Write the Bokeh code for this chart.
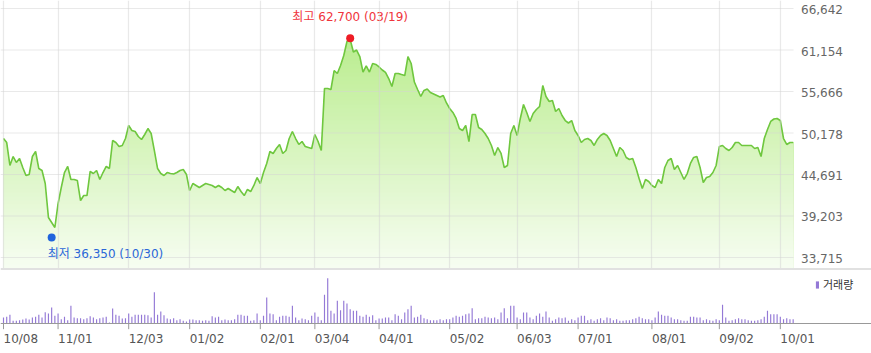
import numpy as np
from bokeh.plotting import figure
from bokeh.layouts import column
from bokeh.models import Range1d, FixedTicker, Span, Legend, LegendItem, Grid
from bokeh.core.properties import value
from bokeh.embed import file_html
from bokeh.resources import INLINE

# ---------------- data ----------------
tick_idx = [0, 17, 39, 58, 80, 97, 117, 139, 160, 179, 202, 223, 242]
tick_labels = ["10/08", "11/01", "12/03", "01/02", "02/01", "03/04", "04/01",
               "05/02", "06/03", "07/01", "08/01", "09/02", "10/01"]
price_ticks = [33715, 39203, 44691, 50178, 55666, 61154, 66642]

prices = [
    49450, 48920, 45880, 47070, 46280, 46810, 45620, 44560, 44690, 47070,
    47730, 45480, 45220, 43500, 39000, 38340, 37680, 40850, 42970, 44950,
    45750, 44030, 44030, 43900, 41250, 41910, 41910, 45090, 44820, 45220,
    44030, 44950, 45750, 45480, 49190, 48920, 48390, 48530, 49450, 51170,
    50510, 50380, 49720, 49320, 49980, 50770, 50110, 47860, 45480, 44820,
    44560, 44950, 44820, 44760, 44950, 45220, 45350, 44690, 42570, 43500,
    43240, 42970, 43240, 43500, 43370, 43240, 42970, 43240, 42970, 42570,
    42840, 42570, 42310, 43100, 42440, 41910, 42710, 42440, 43240, 44290,
    43500, 44950, 46150, 47730, 47470, 48130, 48660, 47470, 47860, 49450,
    50380, 49450, 48660, 49050, 48390, 48260, 48130, 49980, 49050, 47860,
    56060, 56060, 55930, 58440, 58050, 59100, 60430, 62280, 62540, 60890,
    61150, 60290, 58240, 59040, 58240, 59370, 59240, 58910, 58510, 58180,
    57380, 56330, 58050, 58050, 57910, 57780, 60290, 59370, 56920, 55930,
    55010, 55800, 55990, 55530, 55340, 55140, 54940, 55140, 54150, 53420,
    52890, 52100, 50770, 50510, 51170, 49050, 52620, 52620, 50910, 50640,
    50110, 49450, 48530, 47200, 48260, 47470, 45620, 45880, 50110, 51170,
    49850, 52100, 53950, 52890, 51700, 52760, 53290, 53680, 56460, 55010,
    54340, 54480, 53020, 53420, 52490, 51830, 51500, 51830, 50510, 49850,
    48920, 49320, 49450, 49190, 48530, 49320, 49850, 50110, 49850, 49190,
    48130, 47070, 48260, 47860, 46940, 46670, 46810, 45620, 44160, 42840,
    44030, 43760, 43240, 42970, 44030, 43500, 45620, 46540, 46810, 45350,
    45880, 44950, 44030, 44820, 46150, 46940, 47070, 45620, 43630, 44290,
    44420, 44950, 45880, 48390, 48530, 48130, 47860, 48260, 48920, 48920,
    48530, 48530, 48530, 48530, 48130, 48260, 47070, 49450, 50640, 51700,
    52030, 52100, 51830, 49450, 48660, 48920, 48920,
]

volumes = [
    18, 20, 26, 8, 8, 10, 12, 15, 12, 18,
    20, 26, 18, 34, 30, 48, 23, 30, 13, 20,
    10, 53, 18, 16, 16, 13, 16, 22, 18, 13,
    16, 18, 20, 3, 45, 26, 23, 15, 16, 30,
    20, 26, 26, 26, 26, 25, 18, 94, 26, 36,
    25, 15, 13, 16, 10, 13, 8, 6, 12, 12,
    10, 10, 8, 10, 8, 22, 18, 20, 10, 12,
    10, 10, 13, 26, 26, 23, 23, 8, 10, 30,
    10, 23, 78, 30, 28, 10, 20, 23, 23, 20,
    53, 18, 10, 15, 13, 10, 23, 33, 20, 10,
    86, 136, 38, 30, 68, 40, 68, 60, 43, 38,
    38, 23, 20, 26, 20, 25, 10, 15, 15, 18,
    18, 10, 28, 23, 13, 33, 43, 53, 18, 20,
    26, 16, 13, 10, 10, 10, 13, 10, 13, 13,
    18, 23, 20, 23, 28, 30, 46, 13, 16, 16,
    20, 18, 16, 18, 13, 33, 46, 16, 53, 53,
    18, 13, 33, 33, 18, 13, 23, 30, 20, 36,
    18, 8, 13, 18, 16, 18, 8, 13, 10, 18,
    23, 23, 10, 13, 8, 13, 16, 10, 18, 16,
    10, 13, 8, 8, 10, 10, 13, 16, 20, 16,
    13, 13, 10, 18, 36, 26, 23, 23, 18, 13,
    13, 10, 8, 8, 20, 20, 18, 18, 10, 13,
    10, 8, 13, 10, 56, 18, 8, 10, 13, 16,
    13, 13, 10, 8, 8, 10, 13, 20, 38, 28,
    28, 28, 20, 13, 16, 13, 13,
]

hi_idx, hi_val, hi_text = 108, 62700, "최고 62,700 (03/19)"
lo_idx, lo_val, lo_text = 15, 36350, "최저 36,350 (10/30)"
vol_label = "거래량"

# ---------------- layout constants ----------------
W, H_TOP, H_BOT = 871, 268, 85
PX = 3.21                       # pixels per trading day
X_LEFT = -3 / PX                # data x at the left page edge
X_RIGHT = (W - 3) / PX          # data x at the right page edge
X_PLOT_END = 790 / PX           # right end of the price grid
X_YLABEL = 797.5 / PX           # left edge of the price labels
NUM_FONT = "DejaVu Sans"
KR_FONT = "DejaVu Sans, Noto Sans CJK KR"
GRID_COLOR = "#d4d4d4"
VOL_COLOR = "#9479d6"

x = np.arange(len(prices))
price_arr = np.array(prices, dtype=float)

# ---------------- price panel ----------------
p = figure(width=W, height=H_TOP,
           x_range=Range1d(X_LEFT, X_RIGHT),
           y_range=Range1d(32260, 67700),
           output_backend="svg", toolbar_location=None,
           x_axis_location=None, y_axis_location=None,
           min_border_left=0, min_border_right=0,
           min_border_top=0, min_border_bottom=0)
p.outline_line_color = None
for g in p.grid:
    g.visible = False

# gradient fill under the line (stacked bands)
base = p.y_range.start
top_c = np.array([0xb0, 0xea, 0x7e], dtype=float)
bot_c = np.array([0xf7, 0xfd, 0xf2], dtype=float)
edges = np.linspace(p.y_range.end, p.y_range.start, 68)
pmax = price_arr.max()
for k in range(len(edges) - 1):
    if edges[k + 1] >= pmax:
        continue
    mid = 0.5 * (edges[k] + edges[k + 1])
    t = (p.y_range.end - mid) / (p.y_range.end - p.y_range.start)
    c = top_c + (bot_c - top_c) * t
    col = "#%02x%02x%02x" % tuple(int(round(v)) for v in c)
    p.varea(x=x, y1=np.minimum(price_arr, edges[k]), y2=base,
            fill_color=col, level="underlay")

# grid
gx = Grid(dimension=0, ticker=FixedTicker(ticks=tick_idx),
          grid_line_color=GRID_COLOR, grid_line_alpha=0.5, grid_line_width=1.2)
gx.level = "glyph"
p.add_layout(gx)
n_t = len(price_ticks)
p.segment(x0=[X_LEFT] * n_t, x1=[X_PLOT_END] * n_t, y0=price_ticks, y1=price_ticks,
          line_color=GRID_COLOR, line_alpha=0.5, line_width=1.2)

# price labels on the right
p.text(x=[X_YLABEL] * n_t, y=price_ticks, text=[f"{t:,}" for t in price_ticks],
       text_align="left", text_baseline="middle", y_offset=1,
       text_font=value(NUM_FONT), text_font_size="12px", text_color="#666666")

p.line(x, price_arr, line_color="#6fc73f", line_width=1.6)

# high / low markers
p.scatter([hi_idx], [hi_val], size=8, fill_color="#ee1c25", line_color=None)
p.text(x=[hi_idx], y=[hi_val], text=[hi_text], text_align="center",
       text_baseline="middle", y_offset=-21,
       text_font=value(KR_FONT), text_font_size="12px", text_color="#f0353c")
p.scatter([lo_idx], [lo_val], size=8, fill_color="#1f63dc", line_color=None)
p.text(x=[lo_idx], y=[lo_val], text=[lo_text], text_align="left",
       text_baseline="middle", x_offset=-4, y_offset=16,
       text_font=value(KR_FONT), text_font_size="12px", text_color="#2a67d8")

# ---------------- volume panel ----------------
q = figure(width=W, height=H_BOT,
           x_range=Range1d(X_LEFT, X_RIGHT),
           y_range=Range1d(-90, 165),
           output_backend="svg", toolbar_location=None,
           x_axis_location=None, y_axis_location=None,
           min_border_left=0, min_border_right=0,
           min_border_top=0, min_border_bottom=0)
q.outline_line_color = None
for g in q.grid:
    g.visible = False

vb = q.vbar(x=x, top=volumes, width=0.36, fill_color=VOL_COLOR, line_color=None)

# separator and baseline
q.add_layout(Span(location=164.3, dimension="width", line_color="#c4c4c4", line_width=1.5))
q.add_layout(Span(location=0, dimension="width", line_color="#999999", line_width=1))

# date ticks and labels
n_x = len(tick_idx)
q.segment(x0=tick_idx, x1=tick_idx, y0=[0] * n_x, y1=[-17] * n_x,
          line_color="#999999", line_width=1)
q.text(x=tick_idx, y=[0] * n_x, text=tick_labels, text_align="left",
       text_baseline="middle", y_offset=15,
       text_font=value(NUM_FONT), text_font_size="12px", text_color="#555555")

leg = Legend(items=[LegendItem(label=vol_label, renderers=[vb])],
             location=(815, 61), orientation="vertical",
             glyph_width=4, glyph_height=9, label_height=12,
             padding=0, margin=0, spacing=0, label_standoff=4,
             border_line_color=None, background_fill_alpha=0,
             label_text_font=KR_FONT, label_text_font_size="11px",
             label_text_color="#333333")
q.add_layout(leg)

layout = column(p, q, spacing=0)
open("out.html", "w").write(file_html(layout, INLINE))
